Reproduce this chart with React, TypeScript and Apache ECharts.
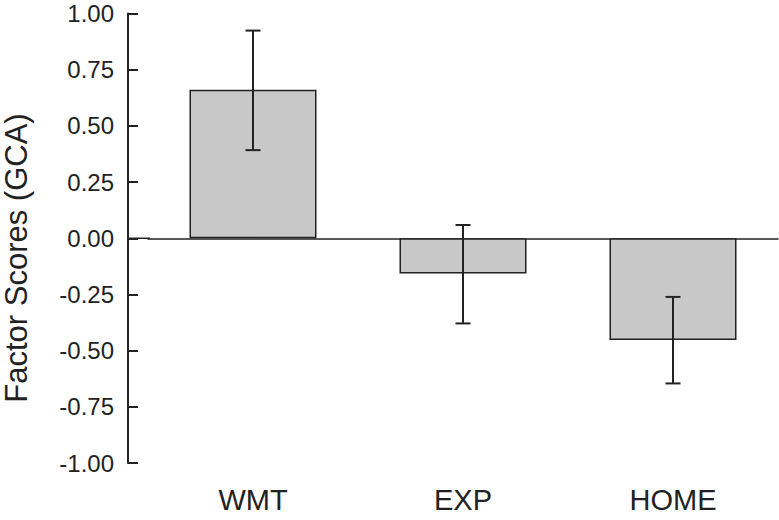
import React, { useEffect, useRef } from "react";
import * as echarts from "echarts";

const categories = ["WMT", "EXP", "HOME"];
const means = [0.661, -0.157, -0.453];
const errLower = [0.392, -0.379, -0.646];
const errUpper = [0.924, 0.059, -0.261];
const yTitle = "Factor Scores (GCA)";

const INK = "#222222";
const FONT = "Liberation Sans, Arial, Helvetica, sans-serif";

export default function App() {
  const ref = useRef<HTMLDivElement>(null);
  useEffect(() => {
    if (!ref.current) return;
    const chart = echarts.init(ref.current, null, { renderer: "svg" });
    chart.setOption({
      animation: false,
      backgroundColor: "#ffffff",
      grid: { left: 148, right: 1, top: 13.5, bottom: 57, containLabel: false },
      xAxis: {
        type: "category",
        data: categories,
        axisLine: { onZero: true, lineStyle: { color: INK, width: 1.5 } },
        axisTick: { show: false },
        axisLabel: {
          color: INK,
          fontSize: 29,
          fontFamily: FONT,
          interval: 0,
          margin: 22,
        },
        position: "bottom",
      },
      yAxis: {
        type: "value",
        min: -1,
        max: 1,
        interval: 0.25,
        offset: 20,
        splitLine: { show: false },
        axisLine: { show: true, lineStyle: { color: INK, width: 2 } },
        axisTick: { show: true, inside: true, length: 10, lineStyle: { color: INK, width: 2 } },
        axisLabel: {
          color: INK,
          fontSize: 24,
          fontFamily: FONT,
          margin: 14,
          formatter: (v: number) => v.toFixed(2),
        },
      },
      series: [
        {
          type: "bar",
          data: means,
          barWidth: 127,
          itemStyle: { color: "#c8c8c8", borderColor: INK, borderWidth: 1.5 },
        },
        {
          type: "custom",
          data: categories.map((c, i) => [i, errLower[i], errUpper[i]]),
          renderItem: (params: any, api: any) => {
            const x = api.value(0);
            const lo = api.coord([x, api.value(1)]);
            const hi = api.coord([x, api.value(2)]);
            const hw = 7.5;
            const style = { stroke: INK, lineWidth: 2, fill: "none" };
            return {
              type: "group",
              children: [
                { type: "line", shape: { x1: lo[0], y1: lo[1], x2: hi[0], y2: hi[1] }, style },
                { type: "line", shape: { x1: lo[0] - hw, y1: lo[1], x2: lo[0] + hw, y2: lo[1] }, style },
                { type: "line", shape: { x1: hi[0] - hw, y1: hi[1], x2: hi[0] + hw, y2: hi[1] }, style },
              ],
            };
          },
          z: 5,
        },
      ],
    });
    const y0 = chart.convertToPixel({ yAxisIndex: 0 }, 0) as number;
    chart.setOption({
      graphic: [
        {
          type: "line",
          z: 10,
          shape: { x1: 127, y1: y0, x2: 150, y2: y0 },
          style: { stroke: INK, lineWidth: 1.5 },
        },
        {
          type: "text",
          x: 16,
          y: 258,
          rotation: Math.PI / 2,
          style: {
            text: yTitle,
            fill: INK,
            fontSize: 31,
            fontFamily: FONT,
            textAlign: "center",
            textVerticalAlign: "middle",
          },
        },
      ],
    });
    return () => chart.dispose();
  }, []);
  return <div ref={ref} style={{ width: 779, height: 520, position: "absolute", left: 0, top: 0 }} />;
}
